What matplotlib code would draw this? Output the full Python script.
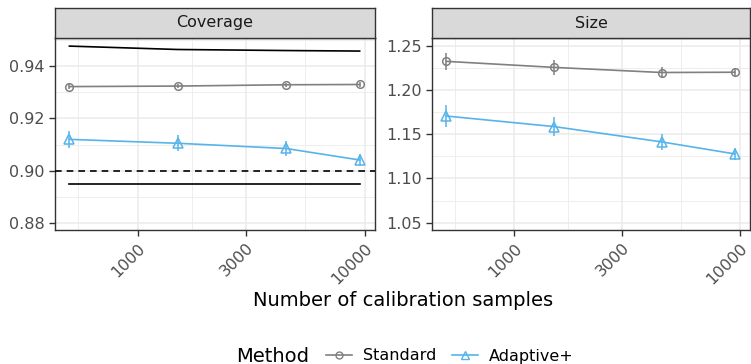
#Coverage and size vs number of calibration samples

import matplotlib.pyplot as plt
from matplotlib.lines import Line2D

n_calib = [500, 1500, 4500, 9500]

# coverage panel
cov_standard = [0.9322, 0.9324, 0.9329, 0.9330]
cov_standard_se = [0.0010, 0.0009, 0.0008, 0.0008]
cov_adaptive = [0.9120, 0.9105, 0.9085, 0.9041]
cov_adaptive_se = [0.0033, 0.0031, 0.0027, 0.0023]
cov_upper = [0.9477, 0.9464, 0.9460, 0.9458]
cov_lower = [0.8951, 0.8951, 0.8951, 0.8951]
cov_target = 0.90

# size panel
size_standard = [1.2323, 1.2255, 1.2197, 1.2200]
size_standard_se = [0.0100, 0.0085, 0.0060, 0.0047]
size_adaptive = [1.1705, 1.1586, 1.1413, 1.1277]
size_adaptive_se = [0.0120, 0.0110, 0.0090, 0.0065]

x_ticks = [1000, 3000, 10000]
x_labels = ["1000", "3000", "10000"]

GREY = "#808080"
BLUE = "#56B4E9"
TXT = "#4D4D4D"

W, H = 751, 364
fig = plt.figure(figsize=(W / 100, H / 100), dpi=100)


def px_box(x0, y0, x1, y1):
    return [x0 / W, 1 - y1 / H, (x1 - x0) / W, (y1 - y0) / H]


def setup_panel(ax, ylim, yticks, yminor, title, strip_box):
    ax.set_xscale("log")
    ax.set_xlim(432, 11100)
    ax.set_ylim(*ylim)
    ax.set_xticks(x_ticks)
    ax.set_xticklabels(x_labels, rotation=45, ha="right", va="top",
                       rotation_mode="anchor")
    ax.set_xticks([548, 1732, 5477], minor=True)
    ax.set_yticks(yticks)
    ax.set_yticks(yminor, minor=True)
    ax.tick_params(which="major", labelsize=11.5, labelcolor=TXT,
                   color="#333333", length=4, width=1)
    ax.tick_params(which="minor", length=0)
    ax.grid(True, which="major", color="#EBEBEB", linewidth=1.1)
    ax.grid(True, which="minor", color="#EBEBEB", linewidth=0.6)
    ax.set_axisbelow(True)
    for s in ax.spines.values():
        s.set_color("#333333")
        s.set_linewidth(1)
    strip = fig.add_axes(strip_box)
    strip.set_facecolor("#D9D9D9")
    strip.set_xticks([])
    strip.set_yticks([])
    for s in strip.spines.values():
        s.set_color("#333333")
        s.set_linewidth(1)
    strip.text(0.5, 0.5, title, ha="center", va="center", fontsize=11.5,
               color="#1A1A1A", transform=strip.transAxes)


def draw_series(ax, y, err, color, marker, ms):
    ax.plot(n_calib, y, color=color, linewidth=1.2, zorder=3)
    ax.errorbar(n_calib, y, yerr=err, fmt=marker, color=color, ms=ms,
                mfc="none", mew=1.1, elinewidth=1.1, capsize=0, zorder=4)


# ----------Coverage----------
ax1 = fig.add_axes(px_box(55, 38, 375, 230))
draw_series(ax1, cov_standard, cov_standard_se, GREY, "o", 5.5)
draw_series(ax1, cov_adaptive, cov_adaptive_se, BLUE, "^", 7)
ax1.plot(n_calib, cov_upper, color="black", linewidth=1.2, zorder=3)
ax1.plot(n_calib, cov_lower, color="black", linewidth=1.2, zorder=3)
ax1.axhline(cov_target, color="black", linestyle=(0, (4, 3)), linewidth=1.2,
            zorder=3)
setup_panel(ax1, (0.8773, 0.9508), [0.88, 0.90, 0.92, 0.94],
            [0.89, 0.91, 0.93, 0.95], "Coverage", px_box(55, 8, 375, 38))

# ----------Size----------
ax2 = fig.add_axes(px_box(432, 38, 750, 230))
draw_series(ax2, size_standard, size_standard_se, GREY, "o", 5.5)
draw_series(ax2, size_adaptive, size_adaptive_se, BLUE, "^", 7)
setup_panel(ax2, (1.0417, 1.2587), [1.05, 1.10, 1.15, 1.20, 1.25],
            [1.075, 1.125, 1.175, 1.225], "Size", px_box(432, 8, 750, 38))

fig.text(403 / W, 1 - 300 / H, "Number of calibration samples", ha="center",
         va="center", fontsize=14)

# legend with title on the left
fig.text(236 / W, 1 - 356 / H, "Method", ha="left", va="center", fontsize=14)
handles = [
    Line2D([], [], color=GREY, marker="o", mfc="none", ms=5, linewidth=1.2),
    Line2D([], [], color=BLUE, marker="^", mfc="none", ms=6, linewidth=1.2),
]
fig.legend(handles, ["Standard", "Adaptive+"], ncol=2, frameon=False,
           loc="center left", bbox_to_anchor=(318 / W, 1 - 356 / H),
           fontsize=11.5, handlelength=1.6, handletextpad=0.7,
           columnspacing=1.0, borderpad=0)

fig.savefig("out.png", dpi=100)
